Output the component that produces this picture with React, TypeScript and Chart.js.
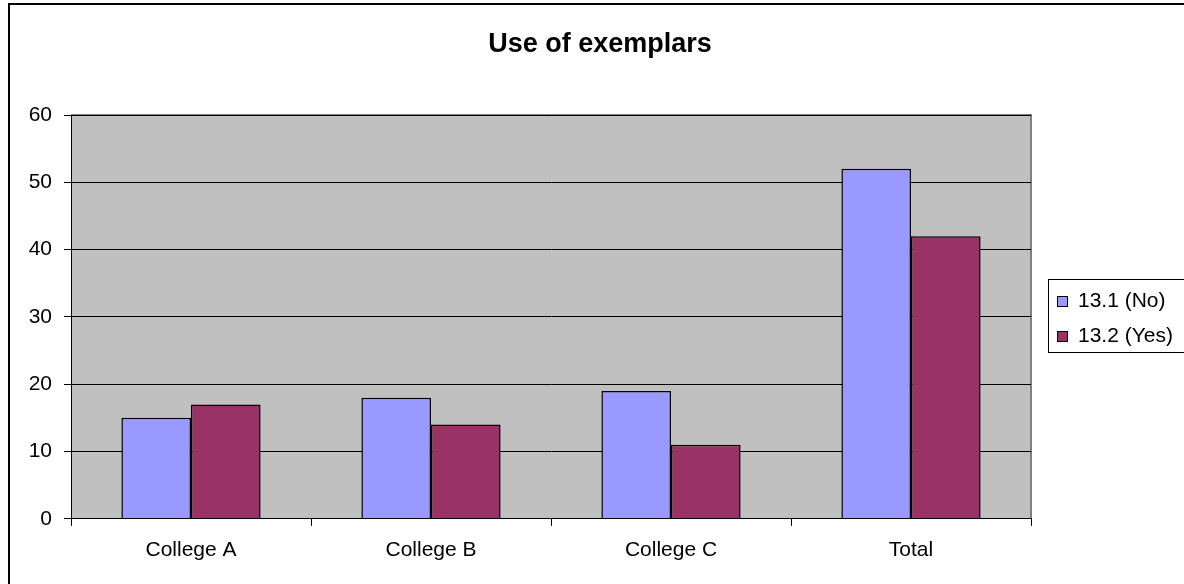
import React, { useEffect, useRef } from "react";
import { Chart, registerables } from "chart.js";

Chart.register(...registerables);

const categories = ["College A", "College B", "College C", "Total"];
const seriesNames = ["13.1 (No)", "13.2 (Yes)"];
const noValues = [15, 18, 19, 52];
const yesValues = [17, 14, 11, 42];
const titleText = "Use of exemplars";

const FONT = "'Liberation Sans', Arial, sans-serif";

const framePlugin = {
  id: "frame",
  beforeDraw(chart: any) {
    const { ctx, chartArea: a } = chart;
    ctx.save();
    ctx.fillStyle = "#C0C0C0";
    ctx.fillRect(a.left, a.top, a.right - a.left, a.bottom - a.top);
    ctx.strokeStyle = "#808080";
    ctx.lineWidth = 2;
    ctx.beginPath();
    ctx.moveTo(a.left, a.top);
    ctx.lineTo(a.right, a.top);
    ctx.lineTo(a.right, a.bottom);
    ctx.stroke();
    ctx.restore();
  },
  afterDraw(chart: any) {
    const { ctx } = chart;
    ctx.save();
    // outer border
    ctx.strokeStyle = "#000";
    ctx.lineWidth = 2;
    ctx.strokeRect(9, 4, 1190, 600);
    // title
    ctx.fillStyle = "#000";
    ctx.font = "bold 27px " + FONT;
    ctx.textAlign = "center";
    ctx.textBaseline = "alphabetic";
    ctx.fillText(titleText, 600, 52);
    // legend
    ctx.textAlign = "left";
    const lx = 1048, ly = 279, lw = 150, lh = 73;
    ctx.fillStyle = "#fff";
    ctx.fillRect(lx, ly, lw, lh);
    ctx.lineWidth = 1;
    ctx.strokeStyle = "#000";
    ctx.strokeRect(lx + 0.5, ly + 0.5, lw, lh);
    const ds = chart.data.datasets;
    ctx.font = "21px " + FONT;
    ds.forEach((d: any, i: number) => {
      const base = ly + 28 + i * 35;
      ctx.fillStyle = d.backgroundColor;
      ctx.fillRect(lx + 9.5, base - 10.5, 10, 10);
      ctx.strokeStyle = "#000";
      ctx.strokeRect(lx + 9.5, base - 10.5, 10, 10);
      ctx.fillStyle = "#000";
      ctx.fillText(d.label, lx + 30, base);
    });
    ctx.restore();
  },
};

export default function App() {
  const ref = useRef<HTMLCanvasElement>(null);
  useEffect(() => {
    document.body.style.margin = "0";
    const chart = new Chart(ref.current!, {
      type: "bar",
      data: {
        labels: categories,
        datasets: [
          {
            label: seriesNames[0],
            data: noValues,
            backgroundColor: "#9999FF",
            borderColor: "#000",
            borderWidth: 1.5,
            categoryPercentage: 0.58,
            barPercentage: 1,
          },
          {
            label: seriesNames[1],
            data: yesValues,
            backgroundColor: "#993366",
            borderColor: "#000",
            borderWidth: 1.5,
            categoryPercentage: 0.58,
            barPercentage: 1,
          },
        ],
      },
      options: {
        animation: false,
        responsive: false,
        layout: { padding: { left: 0, right: 153, top: 115, bottom: 9 } },
        plugins: {
          legend: { display: false },
          tooltip: { enabled: false },
          title: { display: false },
        },
        scales: {
          x: {
            grid: {
              display: true,
              drawOnChartArea: false,
              drawTicks: true,
              tickLength: 7,
              color: "#000",
              offset: true,
            },
            border: { display: true, color: "#000", width: 1 },
            ticks: {
              color: "#000",
              font: { family: FONT, size: 21 },
              padding: 12,
            },
          },
          y: {
            min: 0,
            max: 60,
            ticks: {
              stepSize: 10,
              color: "#000",
              font: { family: FONT, size: 21 },
              padding: 12,
            },
            grid: {
              color: "#000",
              lineWidth: 1,
              tickLength: 7,
              drawTicks: true,
            },
            border: { display: true, color: "#000", width: 1 },
            afterFit(scale: any) {
              scale.width = 71;
            },
          },
        },
      },
      plugins: [framePlugin],
    });
    return () => chart.destroy();
  }, []);
  return <canvas ref={ref} width={1184} height={584} style={{ display: "block" }} />;
}
